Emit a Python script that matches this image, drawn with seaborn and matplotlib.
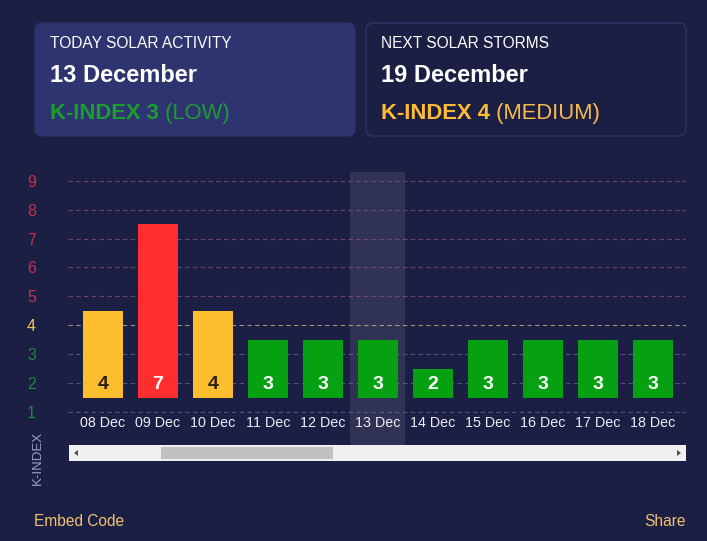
import matplotlib
matplotlib.use("Agg")
import matplotlib.pyplot as plt
import seaborn as sns
import pandas as pd
from matplotlib.patches import FancyBboxPatch, Rectangle, Polygon

# data
dates = ["08 Dec", "09 Dec", "10 Dec", "11 Dec", "12 Dec", "13 Dec",
         "14 Dec", "15 Dec", "16 Dec", "17 Dec", "18 Dec"]
kindex = [4, 7, 4, 3, 3, 3, 2, 3, 3, 3, 3]
levels = [1, 2, 3, 4, 5, 6, 7, 8, 9]
today = "13 Dec"
today_text = ["TODAY SOLAR ACTIVITY", "13 December", "K-INDEX 3", "(LOW)"]
storm_text = ["NEXT SOLAR STORMS", "19 December", "K-INDEX 4", "(MEDIUM)"]

BG = "#1c1f44"
GREEN, YELLOW, RED = "#06a112", "#fcbd2e", "#ff2d2e"


def level_color(k):
    if k <= 3:
        return GREEN
    if k == 4:
        return YELLOW
    return RED


sns.set_theme(style="white")
plt.rcParams["font.family"] = ["Liberation Sans", "DejaVu Sans"]

fig = plt.figure(figsize=(7.07, 5.41), dpi=100, facecolor=BG)
W, H = 707, 541


def fx(px):
    return px / W


def fy(py):
    return 1 - py / H


# cards
fig.patches.append(FancyBboxPatch((fx(35), fy(136)), fx(320), 113 / H,
                                  boxstyle="round,pad=0,rounding_size=0.012",
                                  transform=fig.transFigure, facecolor="#2e3470",
                                  edgecolor="#2e3470", lw=0.8))
fig.patches.append(FancyBboxPatch((fx(366), fy(136)), fx(320), 113 / H,
                                  boxstyle="round,pad=0,rounding_size=0.012",
                                  transform=fig.transFigure, facecolor=BG,
                                  edgecolor="#2f3466", lw=1.0))

renderer = fig.canvas.get_renderer()


def card_text(x0, lines, col_bold, col_norm):
    fig.text(fx(x0), fy(43), lines[0], color="white", fontsize=11.2, va="center")
    fig.text(fx(x0), fy(76), lines[1], color="white", fontsize=17,
             fontweight="bold", va="center")
    t = fig.text(fx(x0), fy(119), lines[2], color=col_bold, fontsize=15.8,
                 fontweight="bold", va="baseline")
    # normal-weight part right after the bold part
    bb = t.get_window_extent(renderer=renderer)
    fig.text(bb.x1 / W, fy(119), " " + lines[3], color=col_norm, fontsize=15.8,
             va="baseline")


card_text(50, today_text, "#19a02c", "#1f9a33")
card_text(381, storm_text, "#fdbb36", "#f6b94c")

# main axes
ax = fig.add_axes([fx(68), fy(445), fx(618), 273 / H])
ax.set_facecolor(BG)

df = pd.DataFrame({"date": dates, "k": kindex})
df["height"] = df["k"] - 1
colors = [level_color(k) for k in kindex]

sns.barplot(data=df, x="date", y="height", hue="date", palette=colors,
            legend=False, width=0.73, bottom=1.5, saturation=1, ax=ax,
            edgecolor="none", zorder=3)

# highlight for today
ti = dates.index(today)
ax.axvspan(ti - 0.5, ti + 0.5, color="white", alpha=0.09, lw=0, zorder=1)

# gridlines
for lv in levels:
    if lv >= 5:
        gc, ga = "#a0607f", 0.6
    elif lv == 4:
        gc, ga = "#c8b080", 0.8
    else:
        gc, ga = "#6a6e96", 0.7
    ax.axhline(lv, color=gc, alpha=ga, lw=0.8, dashes=(4, 3), zorder=2)

# value labels
for i, k in enumerate(kindex):
    tc = "#2b2114" if k == 4 else "white"
    ax.text(i, 1.96, str(k), ha="center", va="center", color=tc,
            fontsize=14, fontweight="bold", zorder=4)

# date labels
for i, d in enumerate(dates):
    ax.text(i, 0.63, d, ha="center", va="center", color="#eceef6",
            fontsize=10.3, zorder=4)

ax.set_xlim(-0.636, 10.6)
ax.set_ylim(-0.142, 9.30)
ax.set_xticks([])
ax.set_yticks(levels)
ax.set_yticklabels([str(v) for v in levels], fontsize=11.5)
for lbl, lv in zip(ax.get_yticklabels(), levels):
    lbl.set_color("#1b8a3a" if lv <= 3 else ("#f2c35a" if lv == 4 else "#c8304f"))
ax.tick_params(axis="y", length=0, pad=23)
ax.set_xlabel("")
ax.set_ylabel("")
for s in ax.spines.values():
    s.set_visible(False)

fig.text(fx(38), fy(458), "K-INDEX", rotation=90, color="#9aa0c8",
         fontsize=9.5, ha="center", va="center")

# scrollbar
fig.patches.append(Rectangle((fx(69), fy(461)), fx(617), 16 / H,
                             transform=fig.transFigure, facecolor="#f0f0f3",
                             edgecolor="none"))
fig.patches.append(Rectangle((fx(161), fy(459)), fx(172), 12 / H,
                             transform=fig.transFigure, facecolor="#c1c1c1",
                             edgecolor="none"))
fig.patches.append(Polygon([(fx(74), fy(453)), (fx(78), fy(450)), (fx(78), fy(456))],
                           closed=True, transform=fig.transFigure,
                           facecolor="#505050", edgecolor="none"))
fig.patches.append(Polygon([(fx(681), fy(453)), (fx(677), fy(450)), (fx(677), fy(456))],
                           closed=True, transform=fig.transFigure,
                           facecolor="#505050", edgecolor="none"))

# footer
fig.text(fx(34), fy(521), "Embed Code", color="#f1c070", fontsize=11.2,
         va="center", ha="left")
fig.text(fx(686), fy(521), "Share", color="#f1c070", fontsize=11.2,
         va="center", ha="right")

fig.savefig("out.png", dpi=100, facecolor=BG)
